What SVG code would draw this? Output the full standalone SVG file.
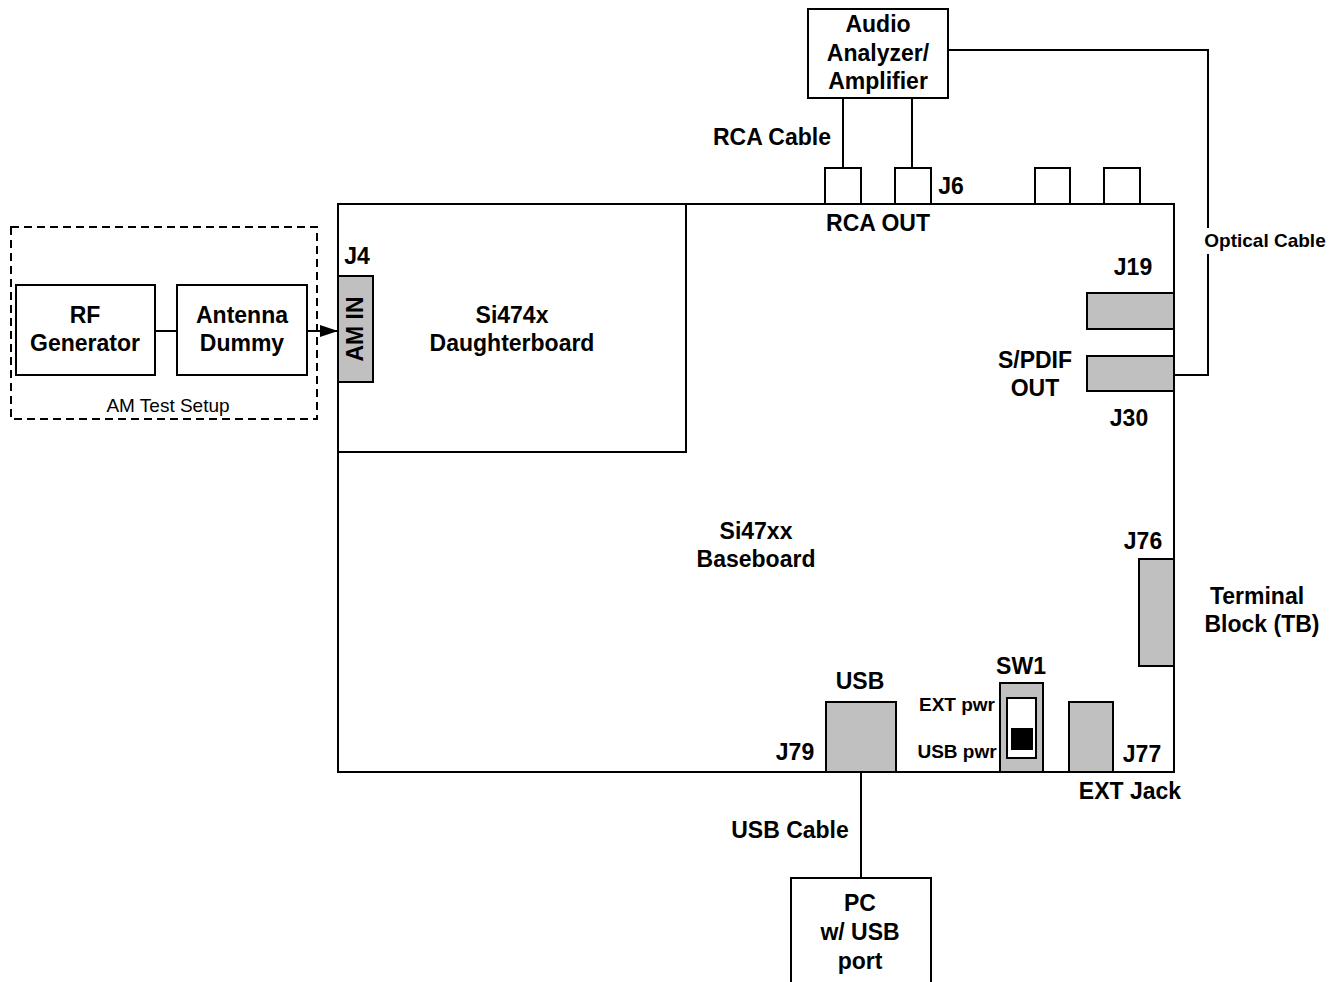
<svg xmlns="http://www.w3.org/2000/svg" width="1342" height="982" viewBox="0 0 1342 982">
<style>
.b{fill:#fff;stroke:#000;stroke-width:2}
.g{fill:#c0c0c0;stroke:#000;stroke-width:2}
.l{fill:none;stroke:#000;stroke-width:2}
text{font-family:"Liberation Sans",Arial,sans-serif;font-weight:bold;font-size:23px;text-anchor:middle;fill:#000}
.s{font-size:19px}
.n{font-weight:normal;font-size:19px}
</style>
<defs>
<marker id="ah" viewBox="0 0 18 12" refX="18" refY="6" markerWidth="18" markerHeight="12" markerUnits="userSpaceOnUse" orient="auto"><path d="M0,0L18,6L0,12z" fill="#000"/></marker>
</defs>
<rect width="1342" height="982" fill="#fff"/>
<g id="amtest">
<rect x="11" y="227" width="306" height="192" fill="none" stroke="#000" stroke-width="2" stroke-dasharray="8,5"/>
<text class="n" x="168" y="412">AM Test Setup</text>
</g>
<g id="baseboard">
<rect class="b" x="338" y="204" width="836" height="568"/>
<text x="756" y="539">Si47xx</text>
<text x="756" y="567">Baseboard</text>
</g>
<g id="daughterboard">
<rect class="b" x="338" y="204" width="348" height="248"/>
<text x="512" y="323">Si474x</text>
<text x="512" y="351">Daughterboard</text>
</g>
<g id="connectors">
<line class="l" x1="155" y1="331" x2="177" y2="331"/>
<line class="l" x1="307" y1="331" x2="338" y2="331" marker-end="url(#ah)"/>
<line class="l" x1="843" y1="98" x2="843" y2="168"/>
<line class="l" x1="912" y1="98" x2="912" y2="168"/>
<polyline class="l" points="948,50 1208,50 1208,228"/>
<polyline class="l" points="1208,254 1208,375 1174,375"/>
<line class="l" x1="861" y1="772" x2="861" y2="878"/>
</g>
<g id="rfgen">
<rect class="b" x="16" y="285" width="139" height="90"/>
<text x="85" y="323">RF</text>
<text x="85" y="351">Generator</text>
</g>
<g id="antenna">
<rect class="b" x="177" y="285" width="130" height="90"/>
<text x="242" y="323">Antenna</text>
<text x="242" y="351">Dummy</text>
</g>
<g id="j4">
<rect class="g" x="338" y="276" width="35" height="106"/>
<text x="363" y="329" transform="rotate(-90 363 329)">AM IN</text>
<text x="357" y="264">J4</text>
</g>
<g id="audio">
<rect class="b" x="808" y="9" width="140" height="89"/>
<text x="878" y="32">Audio</text>
<text x="878" y="61">Analyzer/</text>
<text x="878" y="89">Amplifier</text>
</g>
<g id="rca">
<rect class="b" x="825" y="168" width="36" height="36"/>
<rect class="b" x="895" y="168" width="36" height="36"/>
<rect class="b" x="1035" y="168" width="35" height="36"/>
<rect class="b" x="1104" y="168" width="36" height="36"/>
<text x="772" y="145">RCA Cable</text>
<text x="951" y="194">J6</text>
<text x="878" y="231">RCA OUT</text>
</g>
<g id="optical">
<text class="s" x="1265" y="247">Optical Cable</text>
</g>
<g id="j19">
<rect class="g" x="1087" y="293" width="87" height="36"/>
<text x="1133" y="275">J19</text>
</g>
<g id="j30">
<rect class="g" x="1087" y="356" width="87" height="35"/>
<text x="1035" y="368">S/PDIF</text>
<text x="1035" y="396">OUT</text>
<text x="1129" y="426">J30</text>
</g>
<g id="j76">
<rect class="g" x="1139" y="559" width="35" height="107"/>
<text x="1143" y="549">J76</text>
<text x="1257" y="604">Terminal</text>
<text x="1262" y="632">Block (TB)</text>
</g>
<g id="usb">
<rect class="g" x="826" y="702" width="70" height="70"/>
<text x="860" y="689">USB</text>
<text x="795" y="760">J79</text>
</g>
<g id="sw1">
<rect class="g" x="1000" y="683" width="43" height="89"/>
<rect class="b" x="1007" y="698" width="29" height="60"/>
<rect x="1011" y="728" width="22" height="22" fill="#000"/>
<text x="1021" y="674">SW1</text>
<text class="s" x="957" y="711">EXT pwr</text>
<text class="s" x="957" y="758">USB pwr</text>
</g>
<g id="extjack">
<rect class="g" x="1069" y="702" width="44" height="70"/>
<text x="1142" y="762">J77</text>
<text x="1130" y="799">EXT Jack</text>
</g>
<g id="pc">
<rect class="b" x="791" y="878" width="140" height="120"/>
<text x="790" y="838">USB Cable</text>
<text x="860" y="911">PC</text>
<text x="860" y="940">w/ USB</text>
<text x="860" y="969">port</text>
</g>
</svg>
